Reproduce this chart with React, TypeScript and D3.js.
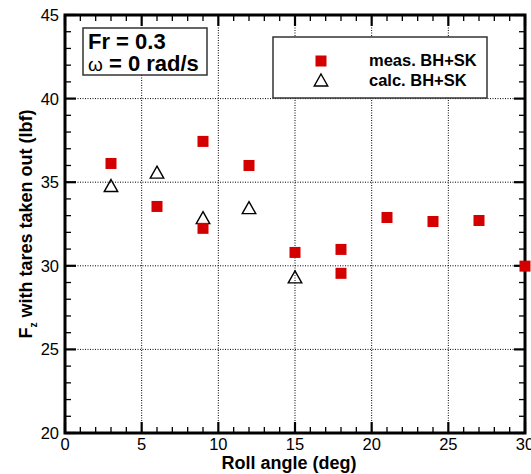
import React from "react";
import * as d3 from "d3";

const measX = [3, 6, 9, 9, 12, 15, 18, 18, 21, 24, 27, 30];
const measY = [36.12, 33.55, 37.44, 32.24, 36.0, 30.8, 30.98, 29.55, 32.89, 32.65, 32.71, 29.98];
const calcX = [3, 6, 9, 12, 15];
const calcY = [34.8, 35.6, 32.88, 33.48, 29.34];
const xTicks = [0, 5, 10, 15, 20, 25, 30];
const yTicks = [20, 25, 30, 35, 40, 45];
const xMinor = d3.range(0, 31, 1);
const yMinor = d3.range(20, 46, 1);

const W = 531;
const H = 474;
const L = 65, R = 525, T = 15, B = 433;
const FONT = "'Liberation Sans', Arial, Helvetica, sans-serif";
const RED = "#d40000";

function tri(cx: number, cy: number, w = 13.5, h = 12) {
  return `M${cx},${cy - h / 2}L${cx + w / 2},${cy + h / 2}L${cx - w / 2},${cy + h / 2}Z`;
}

export default function App() {
  const x = d3.scaleLinear().domain([0, 30]).range([L, R]);
  const y = d3.scaleLinear().domain([20, 45]).range([B, T]);
  const sq = 11;

  return (
    <svg
      width={W}
      height={H}
      style={{ position: "absolute", left: 0, top: 0, background: "#fff" }}
      fontFamily={FONT}
    >
      <rect x={0} y={0} width={W} height={H} fill="#fff" />
      {/* grid */}
      {xTicks.filter((t) => t > 0 && t < 30).map((t) => (
        <line key={"gx" + t} x1={x(t)} x2={x(t)} y1={T} y2={B} stroke="#000" strokeWidth={1} strokeDasharray="1,1.5" />
      ))}
      {yTicks.filter((t) => t > 20 && t < 45).map((t) => (
        <line key={"gy" + t} x1={L} x2={R} y1={y(t)} y2={y(t)} stroke="#000" strokeWidth={1} strokeDasharray="1,1.5" />
      ))}
      {/* minor ticks */}
      {xMinor.filter((t) => t % 5 !== 0).map((t) => (
        <g key={"mx" + t}>
          <line x1={x(t)} x2={x(t)} y1={B} y2={B - 6} stroke="#000" strokeWidth={1.3} />
          <line x1={x(t)} x2={x(t)} y1={T} y2={T + 6} stroke="#000" strokeWidth={1.3} />
        </g>
      ))}
      {yMinor.filter((t) => t % 5 !== 0).map((t) => (
        <g key={"my" + t}>
          <line x1={L} x2={L + 6} y1={y(t)} y2={y(t)} stroke="#000" strokeWidth={1.3} />
          <line x1={R} x2={R - 6} y1={y(t)} y2={y(t)} stroke="#000" strokeWidth={1.3} />
        </g>
      ))}
      {/* major ticks */}
      {xTicks.map((t) => (
        <g key={"Mx" + t}>
          <line x1={x(t)} x2={x(t)} y1={B} y2={B - 11} stroke="#000" strokeWidth={2.2} />
          <line x1={x(t)} x2={x(t)} y1={T} y2={T + 11} stroke="#000" strokeWidth={2.2} />
        </g>
      ))}
      {yTicks.map((t) => (
        <g key={"My" + t}>
          <line x1={L} x2={L + 11} y1={y(t)} y2={y(t)} stroke="#000" strokeWidth={2.2} />
          <line x1={R} x2={R - 11} y1={y(t)} y2={y(t)} stroke="#000" strokeWidth={2.2} />
        </g>
      ))}
      {/* frame */}
      <rect x={L} y={T} width={R - L} height={B - T} fill="none" stroke="#000" strokeWidth={3} />
      {/* tick labels */}
      {xTicks.map((t) => (
        <text key={"lx" + t} x={x(t)} y={450} textAnchor="middle" fontSize={16.5} fill="#000">
          {t}
        </text>
      ))}
      {yTicks.map((t) => (
        <text key={"ly" + t} x={59} y={y(t) + 6} textAnchor="end" fontSize={16.5} fill="#000">
          {t}
        </text>
      ))}
      {/* axis titles */}
      <text x={289} y={469} textAnchor="middle" fontSize={18} fontWeight="bold" fill="#000">
        Roll angle (deg)
      </text>
      <text
        transform={`translate(32,${(T + B) / 2}) rotate(-90)`}
        textAnchor="middle"
        fontSize={18}
        fontWeight="bold"
        fill="#000"
      >
        F<tspan fontSize={10} dy={5}>z</tspan>
        <tspan dy={-5}> with tares taken out (lbf)</tspan>
      </text>
      {/* data: calc triangles */}
      {calcX.map((v, i) => (
        <path key={"c" + i} d={tri(x(v), y(calcY[i]))} fill="none" stroke="#000" strokeWidth={1.4} />
      ))}
      {/* data: meas squares */}
      {measX.map((v, i) => (
        <rect key={"m" + i} x={x(v) - sq / 2} y={y(measY[i]) - sq / 2} width={sq} height={sq} fill={RED} />
      ))}
      {/* info box */}
      <rect x={83} y={28} width={124} height={47} fill="#fff" stroke="#333" strokeWidth={1.5} />
      <text x={88} y={49} fontSize={22} fontWeight="bold" fill="#000">
        Fr = 0.3
      </text>
      <text x={88} y={71} fontSize={22} fontWeight="bold" fill="#000">
        <tspan fontWeight="normal" fontSize={19}>ω</tspan> = 0 rad/s
      </text>
      {/* legend */}
      <rect x={273} y={37} width={214} height={61} fill="#fff" stroke="#333" strokeWidth={1.5} />
      <rect x={321 - sq / 2} y={61 - sq / 2} width={sq} height={sq} fill={RED} />
      <path d={tri(321, 80)} fill="none" stroke="#000" strokeWidth={1.4} />
      <text x={369} y={66} fontSize={16.5} fontWeight="bold" fill="#000">
        meas. BH+SK
      </text>
      <text x={369} y={85.5} fontSize={16.5} fontWeight="bold" fill="#000">
        calc. BH+SK
      </text>
    </svg>
  );
}
